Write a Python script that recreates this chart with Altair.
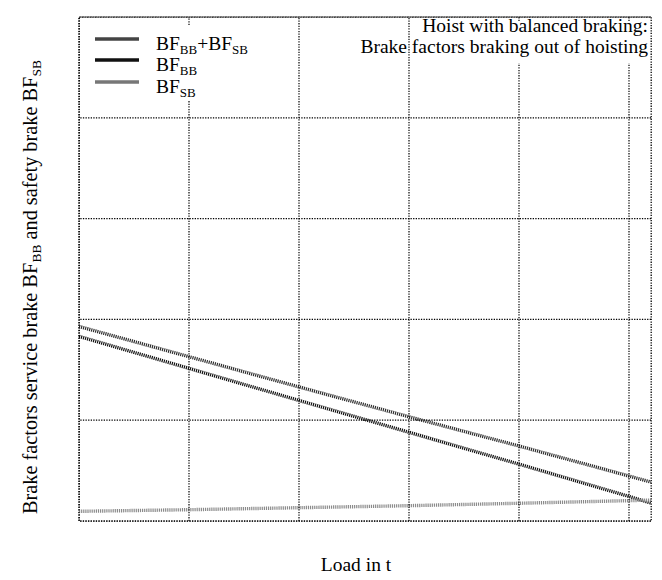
import altair as alt
import pandas as pd

# ---- data ----
load_t = [0, 10, 20, 30, 40, 50, 52]
bf_sum = [0.965, 0.815, 0.665, 0.517, 0.372, 0.223, 0.193]
bf_bb = [0.916, 0.757, 0.598, 0.440, 0.282, 0.122, 0.089]
bf_sb = [0.048, 0.056, 0.066, 0.076, 0.088, 0.101, 0.104]

series_names = ["BF_BB+BF_SB", "BF_BB", "BF_SB"]
series_colors = ["#2e2e2e", "#111111", "#8a8a8a"]
legend_colors = ["#444444", "#111111", "#777777"]

x_ticks = [0, 10, 20, 30, 40, 50]
y_ticks = [0, 0.5, 1.0, 1.5, 2.0, 2.5]

annotation = ["Hoist with balanced braking:", "Brake factors braking out of hoisting"]

FONT = "Liberation Serif"
W, H = 572, 504

rows = []
for name, vals in zip(series_names, [bf_sum, bf_bb, bf_sb]):
    for x, v in zip(load_t, vals):
        rows.append({"load": x, "bf": v, "series": name})
df = pd.DataFrame(rows)

# Times-Roman advance widths (per 1000 em) for composing sub-scripted text
TW = {" ": 250, "+": 564, ":": 278, "B": 667, "F": 556, "S": 556, "H": 722,
      "a": 444, "b": 500, "c": 444, "d": 500, "e": 444, "f": 333, "g": 500,
      "h": 500, "i": 278, "k": 500, "l": 278, "n": 500, "o": 500, "r": 333,
      "s": 389, "t": 278, "u": 500, "v": 500, "w": 722, "y": 500}


def tw(s, fs):
    return sum(TW.get(c, 500) for c in s) / 1000.0 * fs


MAIN, SUB, SUBDROP = 19.5, 13, 4
YMAIN, YSUB = 20.3, 13.5

# ---- compose rich text pieces ----
pieces_h = []  # horizontal pieces (legend)
legend_parts = [
    [("BF", 0), ("BB", 1), ("+BF", 0), ("SB", 1)],
    [("BF", 0), ("BB", 1)],
    [("BF", 0), ("SB", 1)],
]
legend_base = [33, 54, 76]
for parts, by in zip(legend_parts, legend_base):
    cx = 77
    for txt, sub in parts:
        fs = SUB if sub else MAIN
        pieces_h.append({"t": txt, "px": cx, "py": by + (SUBDROP if sub else 0), "fs": fs})
        cx += tw(txt, fs)
dfh = pd.DataFrame(pieces_h)

pieces_v = []  # rotated y title
ytitle_parts = [("Brake factors service brake BF", 0), ("BB", 1),
                (" and safety brake BF", 0), ("SB", 1)]
cy = 497
for txt, sub in ytitle_parts:
    fs = YSUB if sub else YMAIN
    if txt.startswith(" "):
        cy -= tw(" ", fs)
        txt = txt[1:]
    pieces_v.append({"t": txt, "px": -42 + (SUBDROP if sub else 0), "py": cy, "fs": fs})
    cy -= tw(txt, fs)
dfv = pd.DataFrame(pieces_v)

xs = alt.Scale(domain=[0, 52], nice=False)
ys = alt.Scale(domain=[0, 2.5], nice=False)
GRID = dict(color="black", strokeWidth=1.2, strokeDash=[1.3, 1.3])

# vertical grid lines, interrupted where the legend and the note sit
# (gap: x range, y range in data units)
gaps = [((0.5, 16.0), (2.09, 2.46)), ((30.5, 52.0), (2.27, 2.48))]
seg_rows = []
for g in x_ticks:
    cuts = [yr for xr, yr in gaps if xr[0] <= g <= xr[1]]
    lo = 0.0
    for a, b in sorted(cuts):
        seg_rows.append({"gx": g, "ya": lo, "yb": a})
        lo = b
    seg_rows.append({"gx": g, "ya": lo, "yb": 2.5})
grid_v = alt.Chart(pd.DataFrame(seg_rows)).mark_rule(**GRID).encode(
    x=alt.X("gx:Q", scale=xs, axis=None),
    y=alt.Y("ya:Q", scale=ys, axis=None),
    y2="yb:Q")
grid_h = alt.Chart(pd.DataFrame({"gy": y_ticks})).mark_rule(**GRID).encode(
    y=alt.Y("gy:Q", scale=ys, axis=None))

lines = alt.Chart(df).mark_line(strokeWidth=3.4, strokeDash=[1.2, 0.9], clip=True).encode(
    x=alt.X("load:Q", scale=xs,
            axis=alt.Axis(values=x_ticks, title=None, labelPadding=9, grid=False, ticks=False, domain=False)),
    y=alt.Y("bf:Q", scale=ys,
            axis=alt.Axis(values=y_ticks, title=None, labelPadding=6, grid=False, ticks=False, domain=False,
                          labelExpr="datum.value == 0 ? '0' : replace(format(datum.value, '.1f'), '.', ',')")),
    color=alt.Color("series:N", scale=alt.Scale(domain=series_names, range=series_colors), legend=None),
    order=alt.Order("load:Q"),
)

leg_df = pd.DataFrame({"series": series_names, "yy": [22, 43, 65], "c": legend_colors})
legend_lines = alt.Chart(leg_df).mark_rule(strokeWidth=3.6).encode(
    x=alt.value(16), x2=alt.value(60), y=alt.Y("yy:Q", scale=None),
    color=alt.Color("c:N", scale=None),
)

legend_text = alt.Chart(dfh).mark_text(align="left", baseline="alphabetic", font=FONT, color="black").encode(
    x=alt.X("px:Q", scale=None), y=alt.Y("py:Q", scale=None),
    size=alt.Size("fs:Q", scale=None), text="t:N",
)

ytitle = alt.Chart(dfv).mark_text(align="left", baseline="alphabetic", font=FONT, color="black", angle=270).encode(
    x=alt.X("px:Q", scale=None), y=alt.Y("py:Q", scale=None),
    size=alt.Size("fs:Q", scale=None), text="t:N",
)

ann_df = pd.DataFrame({"t": annotation, "py": [15, 36]})
ann = alt.Chart(ann_df).mark_text(align="right", baseline="alphabetic", font=FONT, fontSize=MAIN, color="black").encode(
    x=alt.value(569), y=alt.Y("py:Q", scale=None), text="t:N",
)

xtitle = alt.Chart(pd.DataFrame({"t": ["Load in t"]})).mark_text(
    align="center", baseline="alphabetic", font=FONT, fontSize=MAIN, color="black").encode(
    x=alt.value(277), y=alt.value(554), text="t:N",
)

chart = alt.layer(lines, grid_v, grid_h, legend_lines, legend_text, ytitle, ann, xtitle).properties(
    width=W, height=H,
    autosize=alt.AutoSizeParams(type="none"),
    padding={"left": 71, "top": 9, "right": 3, "bottom": 53},
    background="white",
).configure_view(
    stroke="black", strokeWidth=1.3, strokeDash=[1.3, 1.3]
).configure_axis(
    domain=False, ticks=False, grid=False, labelFont=FONT, labelFontSize=18, labelColor="black",
).configure_axisX(grid=False).configure_axisY(grid=False)

chart.save("out.html", embed_options={"renderer": "svg", "actions": False})
